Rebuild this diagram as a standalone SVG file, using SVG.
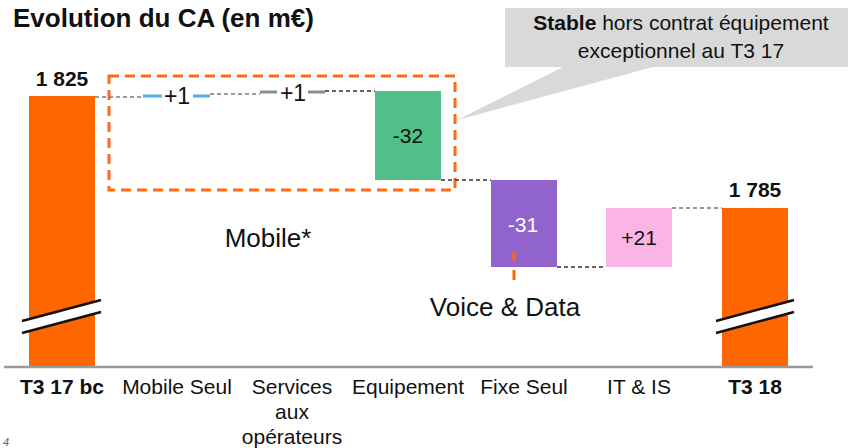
<svg xmlns="http://www.w3.org/2000/svg" width="856" height="448" viewBox="0 0 856 448">
<style>
text{font-family:"Liberation Sans",Arial,Helvetica,sans-serif;fill:#111}
.lbl{font-size:21px;text-anchor:middle}
.b{font-weight:bold}
.val{font-size:21px;text-anchor:middle}
.big{font-size:26px;text-anchor:middle}
.conn-g{stroke:#7a7a7a;stroke-width:1.6;stroke-dasharray:4 3;fill:none}
.conn-k{stroke:#333;stroke-width:1.4;stroke-dasharray:4 3;fill:none}
.brk{stroke:#111;stroke-width:2.5}
.orange{fill:#ff6600}
</style>
<rect width="856" height="448" fill="#ffffff"/>
<text x="13" y="27" style="font-size:26px;font-weight:bold">Evolution du CA (en m€)</text>

<g id="callout">
<polygon points="505,8 848,8 848,67 653,67 457,120 563,67 505,67" fill="#d9d9d9"/>
<text x="681" y="30" style="font-size:21px;text-anchor:middle"><tspan font-weight="bold">Stable</tspan> hors contrat équipement</text>
<text x="681" y="58" style="font-size:21px;text-anchor:middle">exceptionnel au T3 17</text>
</g>

<g id="mobile-group">
<rect x="109" y="76" width="346" height="114" fill="none" stroke="#ff6a1a" stroke-width="3" stroke-dasharray="10 6"/>
<text x="268" y="247" class="big">Mobile*</text>
</g>

<g id="connectors">
<line x1="95" y1="97" x2="143" y2="97" class="conn-g"/>
<line x1="210" y1="94" x2="260" y2="94" class="conn-g"/>
<line x1="325" y1="91" x2="375" y2="91" class="conn-k"/>
<line x1="441" y1="180" x2="491" y2="180" class="conn-k"/>
<line x1="557" y1="267" x2="606" y2="267" class="conn-k"/>
<line x1="672" y1="208" x2="722" y2="208" class="conn-g"/>
</g>

<g id="t3-17">
<rect x="29" y="96" width="66" height="270" class="orange"/>
<polygon points="22,321 101,300 101,312 22,333" fill="#fff"/>
<line x1="22" y1="321" x2="101" y2="300" class="brk"/>
<line x1="22" y1="333" x2="101" y2="312" class="brk"/>
<text x="62" y="86" class="val b">1 825</text>
</g>

<g id="mobile-seul">
<line x1="143" y1="96" x2="162" y2="96" stroke="#4cb3e6" stroke-width="3"/>
<line x1="193" y1="96" x2="210" y2="96" stroke="#4cb3e6" stroke-width="3"/>
<text x="177" y="104" style="font-size:23px;text-anchor:middle">+1</text>
</g>

<g id="services">
<line x1="260" y1="92" x2="277" y2="92" stroke="#8c8c8c" stroke-width="3"/>
<line x1="308" y1="92" x2="325" y2="92" stroke="#8c8c8c" stroke-width="3"/>
<text x="293" y="101" style="font-size:23px;text-anchor:middle">+1</text>
</g>

<g id="equipement">
<rect x="375" y="91" width="66" height="89" fill="#50c088"/>
<text x="408" y="143" class="val">-32</text>
</g>

<g id="fixe-seul">
<rect x="491" y="180" width="66" height="87" fill="#9063cd"/>
<text x="523" y="232" class="val" style="fill:#ffffff">-31</text>
</g>

<g id="voice-data">
<line x1="514" y1="252" x2="514" y2="283" stroke="#ff6600" stroke-width="3" stroke-dasharray="10 8"/>
<text x="505" y="316" class="big">Voice &amp; Data</text>
</g>

<g id="it-is">
<rect x="606" y="208" width="66" height="59" fill="#fbb4e6"/>
<text x="639" y="245" class="val">+21</text>
</g>

<g id="t3-18">
<rect x="722" y="208" width="66" height="158" class="orange"/>
<polygon points="716,321 794,300 794,312 716,333" fill="#fff"/>
<line x1="716" y1="321" x2="794" y2="300" class="brk"/>
<line x1="716" y1="333" x2="794" y2="312" class="brk"/>
<text x="755" y="197" class="val b">1 785</text>
</g>

<g id="axis">
<line x1="4" y1="367" x2="813" y2="367" stroke="#9a9a9a" stroke-width="2.5"/>
<text x="62" y="394" class="lbl b">T3 17 bc</text>
<text x="177" y="394" class="lbl">Mobile Seul</text>
<text x="292" y="394" class="lbl">Services</text>
<text x="292" y="419" class="lbl">aux</text>
<text x="292" y="444" class="lbl">opérateurs</text>
<text x="408" y="394" class="lbl">Equipement</text>
<text x="524" y="394" class="lbl">Fixe Seul</text>
<text x="639" y="394" class="lbl">IT &amp; IS</text>
<text x="755" y="394" class="lbl b">T3 18</text>
</g>

<text x="3" y="446" style="font-size:11px;fill:#666;font-style:italic">4</text>
</svg>
